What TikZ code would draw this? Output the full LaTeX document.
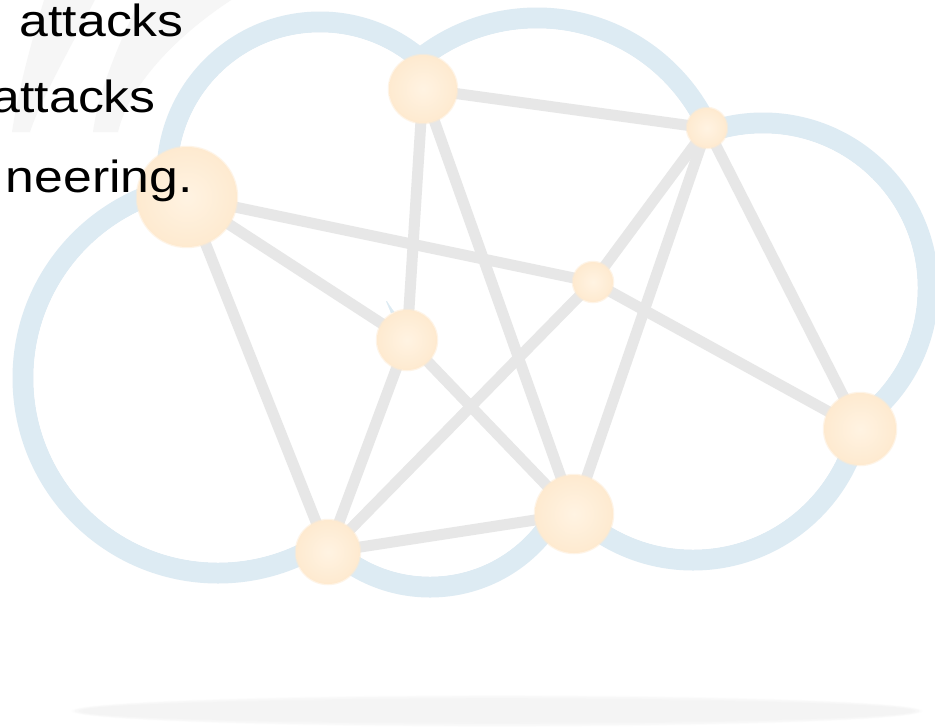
\documentclass[tikz,border=0pt]{standalone}
\usepackage{fontspec}
\setmainfont{Liberation Sans}
\pgfdeclarelayer{cloudlayer}
\pgfdeclarelayer{linklayer}
\pgfsetlayers{cloudlayer,linklayer,main}
\definecolor{cloudblue}{RGB}{221,235,243}
\definecolor{linkgray}{RGB}{231,231,231}
\definecolor{peachin}{RGB}{255,243,226}
\definecolor{peachout}{RGB}{254,234,208}
\definecolor{quotegray}{RGB}{246,246,246}
\definecolor{shadowgray}{RGB}{244,244,244}
\begin{document}
\begin{tikzpicture}[x=0.02cm, y=-0.02cm,
  link/.style={draw=linkgray, line width=0.22cm, line cap=round},
  hub/.style={circle, inner sep=0pt, shading=radial, inner color=peachin, outer color=peachout,
    postaction={draw=peachout, line width=0.05cm, opacity=0.5}},
  lobe/.style={draw=cloudblue, line width=0.42cm},
  caption/.style={anchor=base east, inner sep=0pt, font=\fontsize{25.6}{30}\selectfont}]
\useasboundingbox (0,0) rectangle (935,727);

% network hubs
\node[hub, minimum size=2.00cm] (A) at (187,197) {};
\node[hub, minimum size=1.36cm] (B) at (423,89) {};
\node[hub, minimum size=0.80cm] (C) at (707,128) {};
\node[hub, minimum size=0.80cm] (D) at (593,282) {};
\node[hub, minimum size=1.20cm] (E) at (407,340) {};
\node[hub, minimum size=1.44cm] (F) at (860,429) {};
\node[hub, minimum size=1.56cm] (G) at (574,514) {};
\node[hub, minimum size=1.28cm] (H) at (328,552) {};

% links between hubs
\begin{pgfonlayer}{linklayer}
  \foreach \u/\v in {A/D, A/E, A/H, B/C, B/E, B/G, C/D, C/G, C/F, D/F, D/H, E/G, E/H, H/G}
    \draw[link] (\u.center) -- (\v.center);
\end{pgfonlayer}

% page, cloud outline, quote marks and floor shadow
\begin{pgfonlayer}{cloudlayer}
  \fill[white] (0,0) rectangle (935,727);
  \fill[quotegray] (50,-20) -- (105,-20) .. controls (75,40) and (40,100) .. (30,132)
      -- (12,132) .. controls (20,80) and (35,30) .. cycle;
  \fill[quotegray] (150,-20) -- (265,-20) .. controls (190,20) and (130,80) .. (118,132)
      -- (93,132) .. controls (100,80) and (130,20) .. cycle;
  \foreach \o in {0.2,0.4,0.7,1.0}
    \fill[shadowgray, opacity=\o] (497,711) ellipse[x radius={414+(1-\o)*14}, y radius={11+(1-\o)*6}];
  % each lobe is a circle: stroke all, then blank their interiors
  \foreach \cx/\cy/\r in {218/378/195, 320/175/153, 537/206/188, 763/288/165, 693/390/170, 430/442/145}
    \draw[lobe] (\cx,\cy) circle[radius=\r];
  \foreach \cx/\cy/\r in {218/378/195, 320/175/153, 537/206/188, 763/288/165, 693/390/170, 430/442/145}
    \fill[white] (\cx,\cy) circle[radius=\r-10.5];
\end{pgfonlayer}

% text lines
\node[caption] (l1) at (184,36) {\scalebox{1.15}[1]{attacks}};
\node[caption] (l2) at (156,112) {\scalebox{1.15}[1]{attacks}};
\node[caption] (l3) at (193,192) {\scalebox{1.15}[1]{neering.}};
\end{tikzpicture}
\end{document}
